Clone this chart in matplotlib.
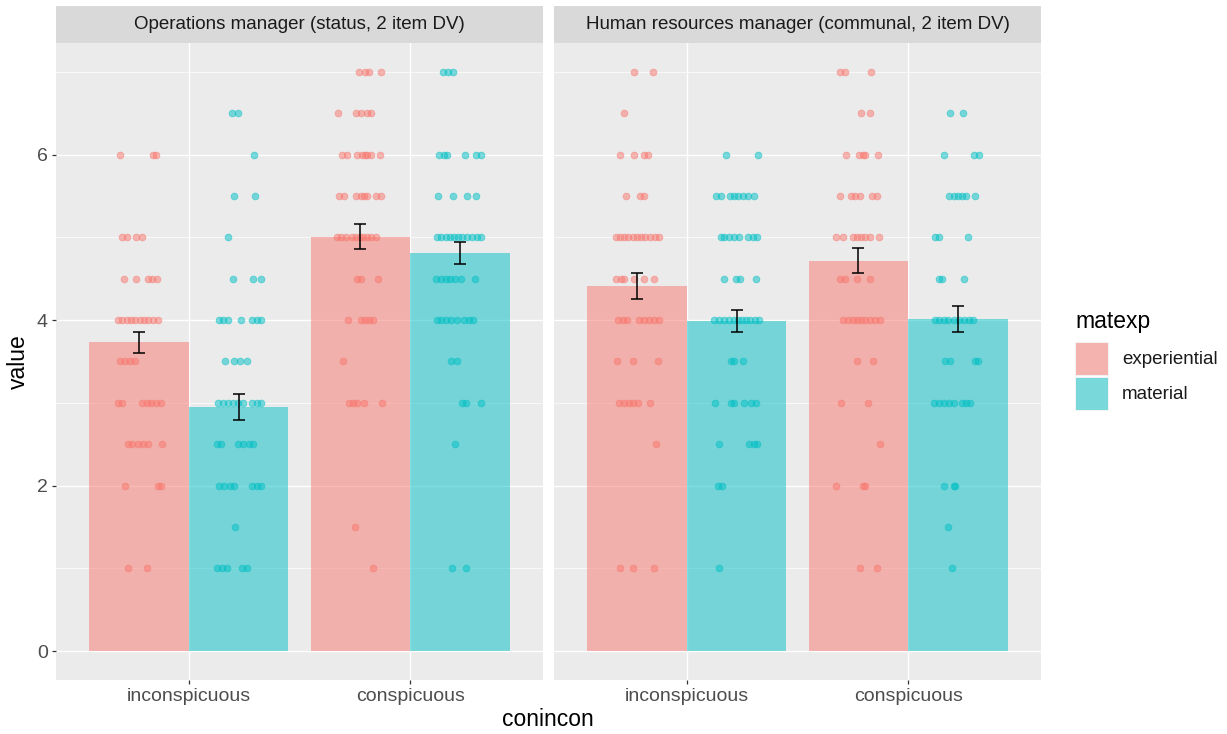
import matplotlib
matplotlib.use("Agg")
import matplotlib.pyplot as plt
from matplotlib.patches import Rectangle

plt.rcParams['font.family'] = ['Liberation Sans', 'DejaVu Sans']

# ---------------- data ----------------
categories = ["inconspicuous", "conspicuous"]
groups = ["experiential", "material"]
panels = ["Operations manager (status, 2 item DV)",
          "Human resources manager (communal, 2 item DV)"]

# bar means [panel][category][group]
ops_means = [[3.73, 2.95], [5.01, 4.81]]
hr_means = [[4.41, 3.99], [4.72, 4.01]]
# standard errors
ops_se = [[0.13, 0.16], [0.15, 0.13]]
hr_se = [[0.16, 0.13], [0.155, 0.155]]

# individual responses: value -> horizontal jitter (px)
ops_incon_exp = {6: [-19, 14, 17], 5: [-17, -12, -3, 3], 4.5: [-15, -3, 9, 13, 18],
                 4: [-21, -17, -12, -8, -4, 1, 5, 9, 14, 19], 3.5: [-19, -14, -9, -4],
                 3: [-21, -17, 3, 8, 12, 17, 22], 2.5: [-11, -7, -1, 4, 9, 23],
                 2: [-14, 19, 22], 1: [-11, 8]}
ops_incon_mat = {6.5: [-7, -1], 6: [15], 5.5: [-5, 16], 5: [-11], 4.5: [-6, 14, 22],
                 4: [-20, -16, -11, 2, 13, 18, 22], 3.5: [-14, -5, 1, 8],
                 3: [-21, -16, -11, -6, -1, 4, 13, 18, 22], 2.5: [-22, -18, -1, 4, 10, 14],
                 2: [-20, -15, -9, -5, 13, 18, 22], 1.5: [-4], 1: [-22, -17, -12, 3, 8]}
ops_con_exp = {7: [-1, 5, 9, 21], 6.5: [-22, -4, 1, 7, 11],
               6: [-18, -13, -3, 2, 5, 7, 11, 20], 5.5: [-21, -16, -4, 1, 4, 7, 16, 21],
               5: [-23, -19, -14, -8, -4, 0, 3, 7, 11, 16], 4.5: [-3, 1, 18],
               4: [-12, 1, 5, 9, 13], 3.5: [-17], 3: [-11, -7, -3, 4, 22], 1.5: [-5], 1: [13]}
ops_con_mat = {7: [-17, -12, -7], 6: [-21, -16, -13, 5, 16, 21], 5.5: [-22, -7, 7, 16],
               5: [-23, -19, -14, -10, -6, -2, 2, 7, 12, 17, 21],
               4.5: [-24, -19, -14, -10, -5, 1, 15], 4: [-23, -19, -14, -9, -3, 4, 9, 13],
               3.5: [-9, -3], 3: [2, 6, 21], 2.5: [-5], 1: [-8, 6]}
hr_incon_exp = {7: [-3, 16], 6.5: [-13], 6: [-17, -3, 7, 11], 5.5: [-11, 3, 7],
                5: [-21, -17, -13, -9, -4, 0, 4, 8, 13, 18, 22],
                4.5: [-21, -16, -13, -3, 7, 17], 4: [-19, -14, -10, 2, 7, 12, 17, 22],
                3.5: [-20, -4, 21], 3: [-18, -13, -8, -4, 1, 13], 2.5: [19], 1: [-17, -4, 17]}
hr_incon_mat = {6: [-11, 21], 5.5: [-21, -16, -7, -3, 1, 6, 11, 17],
                5: [-16, -13, -8, -3, 2, 11, 16, 20], 4.5: [-13, -1, 3, 19],
                4: [-23, -18, -13, -8, -3, 1, 5, 9, 13, 18, 22], 3.5: [-6, -3, 6],
                3: [-22, -6, -3, 7, 14, 19], 2.5: [-18, 12, 17, 20], 2: [-19, -15], 1: [-18]}
hr_con_exp = {7: [-18, -13, 13], 6.5: [3, 12], 6: [-12, 1, 5, 7, 20],
              5.5: [-18, -7, -3, 2, 14, 19], 5: [-22, -15, -5, -1, 3, 7, 12, 21],
              4.5: [-18, -13, -1, 12], 4: [-15, -10, -5, -1, 3, 7, 12, 17, 22],
              3.5: [-1, 15], 3: [-17, 10], 2.5: [22], 2: [-22, 5, 7], 1: [2, 19]}
hr_con_mat = {6.5: [-8, 5], 6: [-14, 16, 21], 5.5: [-9, -4, 0, 4, 8, 17], 5: [-23, -19, 10],
              4.5: [-19, -16, 6], 4: [-23, -19, -14, -10, -4, 1, 6, 11, 15],
              3.5: [-13, -8, 17, 20], 3: [-24, -19, -14, -9, -4, 4, 8, 12],
              2: [-14, -4, -3], 1.5: [-10], 1: [-6]}

panel_means = [ops_means, hr_means]
panel_se = [ops_se, hr_se]
panel_points = [[[ops_incon_exp, ops_incon_mat], [ops_con_exp, ops_con_mat]],
                [[hr_incon_exp, hr_incon_mat], [hr_con_exp, hr_con_mat]]]

# ---------------- style ----------------
W, H = 1227, 734
colors = ["#F8766D", "#00BFC4"]
bg = "#EBEBEB"
px_per_unit = 222.0
dodge = 0.225
bar_w = 0.45

fig = plt.figure(figsize=(W / 100, H / 100), dpi=100)


def fx(x):
    return x / W


def fy(y):
    return 1 - y / H


panel_x = [(56, 543), (554, 1041)]
top, bottom = 43, 680
strip_top = 6

for p in range(2):
    x0, x1 = panel_x[p]
    ax = fig.add_axes([fx(x0), fy(bottom), (x1 - x0) / W, (bottom - top) / H])
    ax.set_facecolor(bg)
    for s in ax.spines.values():
        s.set_visible(False)
    ax.set_xlim(0.4, 2.6)
    ax.set_ylim(-0.35, 7.35)
    ax.set_yticks([0, 2, 4, 6])
    ax.set_yticks([1, 3, 5, 7], minor=True)
    ax.set_xticks([1, 2])
    ax.set_xticklabels(categories)
    ax.grid(True, which='major', color='white', linewidth=1.0)
    ax.grid(True, which='minor', axis='y', color='white', linewidth=0.5)
    ax.set_axisbelow(True)
    ax.tick_params(which='minor', length=0)
    ax.tick_params(which='major', length=3, width=0.9, color='#333333',
                   labelcolor='#4D4D4D', labelsize=14, pad=3)
    if p == 1:
        ax.tick_params(axis='y', which='both', left=False, labelleft=False)

    for ci in range(2):
        for gi in range(2):
            xc = (ci + 1) + (gi - 0.5) * 2 * dodge
            m = panel_means[p][ci][gi]
            ax.bar(xc, m, width=bar_w, color=colors[gi], alpha=0.5,
                   linewidth=0, zorder=2)
            pts = panel_points[p][ci][gi]
            xs, ys = [], []
            for val, offs in pts.items():
                for o in offs:
                    xs.append(xc + o / px_per_unit)
                    ys.append(val)
            ax.scatter(xs, ys, s=24, color=colors[gi], alpha=0.5,
                       edgecolors=colors[gi], linewidths=0.6, zorder=3)
            ax.errorbar(xc, m, yerr=panel_se[p][ci][gi], fmt='none',
                        ecolor='black', elinewidth=1.1, capsize=4,
                        capthick=1.1, zorder=4)

    # strip
    sax = fig.add_axes([fx(x0), fy(top), (x1 - x0) / W, (top - strip_top) / H])
    sax.set_facecolor('#D9D9D9')
    sax.set_xticks([])
    sax.set_yticks([])
    for s in sax.spines.values():
        s.set_visible(False)
    sax.text(0.5, 0.5, panels[p], ha='center', va='center', fontsize=13.5,
             color='#1A1A1A', transform=sax.transAxes)

# axis titles
fig.text(fx(548), fy(720), "conincon", ha='center', va='center', fontsize=16.5,
         color='black')
fig.text(fx(18), fy(362), "value", ha='center', va='center', fontsize=16.5,
         rotation=90, color='black')

# legend
fig.text(fx(1075), fy(322), "matexp", ha='left', va='center', fontsize=16.5,
         color='black')
key_y = [(342, 376), (377, 411)]
for gi in range(2):
    ya, yb = key_y[gi]
    fig.add_artist(Rectangle((fx(1075), fy(yb)), 34 / W, (yb - ya) / H,
                             transform=fig.transFigure, facecolor='#F2F2F2',
                             edgecolor='none'))
    fig.add_artist(Rectangle((fx(1076), fy(yb - 1)), 32 / W, (yb - ya - 2) / H,
                             transform=fig.transFigure, facecolor=colors[gi],
                             alpha=0.5, edgecolor='none'))
    fig.text(fx(1122), fy((ya + yb) / 2), groups[gi], ha='left', va='center',
             fontsize=13.5, color='#1A1A1A')

fig.savefig("out.png", dpi=100)
